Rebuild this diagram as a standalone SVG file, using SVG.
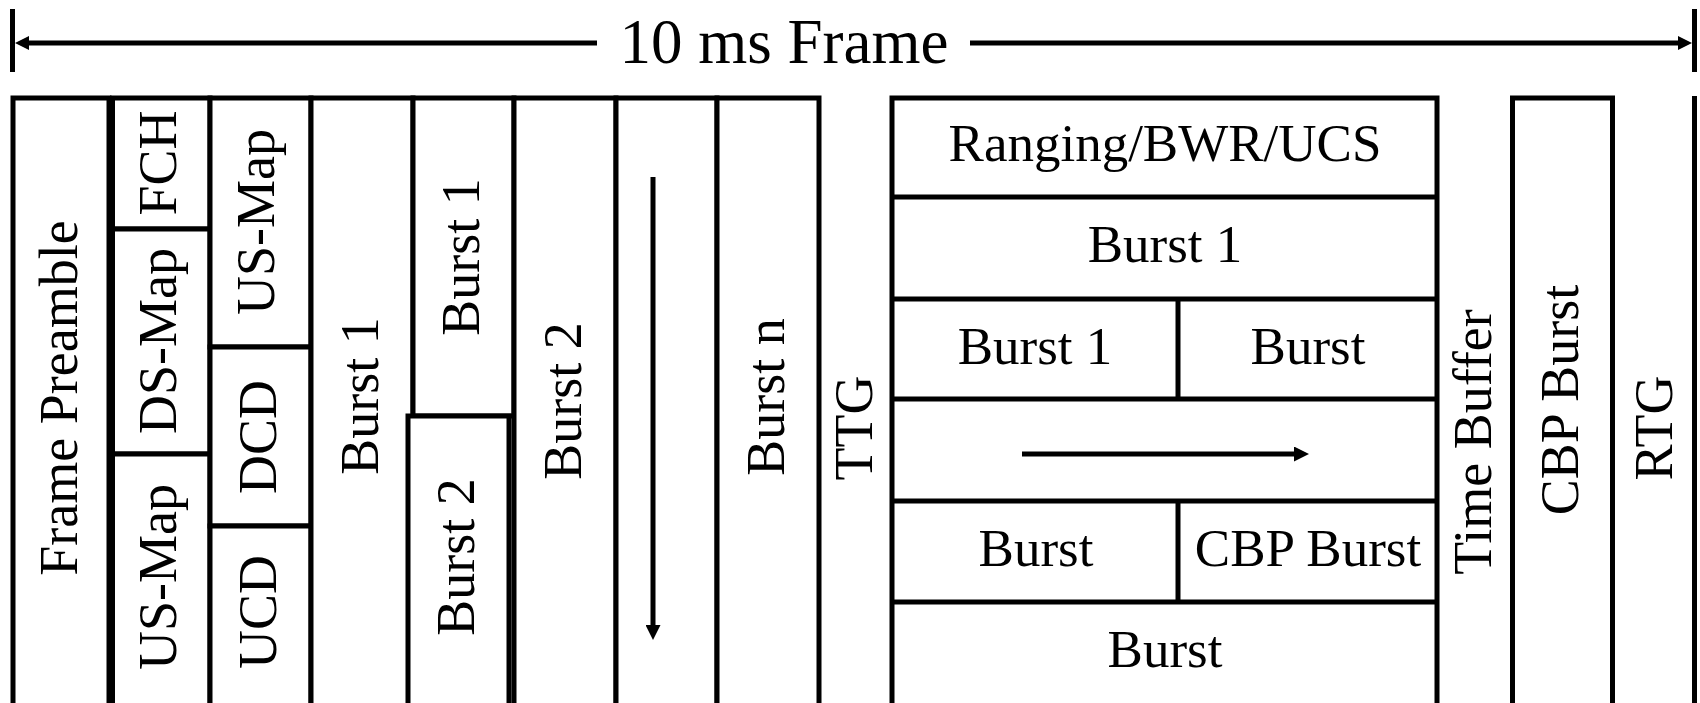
<svg xmlns="http://www.w3.org/2000/svg" width="1700" height="703" viewBox="0 0 1700 703">
<style>
  .b { fill: #fff; stroke: #000; stroke-width: 5; }
  .t { font-family: "Liberation Serif", "Times New Roman", serif; font-size: 54px; fill: #000; text-anchor: middle; }
  .h { font-family: "Liberation Serif", "Times New Roman", serif; font-size: 53px; fill: #000; text-anchor: middle; }
  .title { font-family: "Liberation Serif", "Times New Roman", serif; font-size: 63px; fill: #000; text-anchor: middle; }
  .ln { stroke: #000; stroke-width: 5; fill: none; }
</style>
<defs>
  <marker id="ah" markerUnits="userSpaceOnUse" markerWidth="15" markerHeight="15" viewBox="0 0 15 15" refX="0" refY="7.5" orient="auto">
    <path d="M0,0 L15,7.5 L0,15 z" fill="#000"/>
  </marker>
  <marker id="ah2" markerUnits="userSpaceOnUse" markerWidth="14" markerHeight="14" viewBox="0 0 14 14" refX="0" refY="7" orient="auto">
    <path d="M0,0 L14,7 L0,14 z" fill="#000"/>
  </marker>
</defs>
<rect width="1700" height="703" fill="#fff"/>

<g id="frame-span">
  <line class="ln" x1="12.5" y1="9" x2="12.5" y2="72"/>
  <line class="ln" x1="1694.5" y1="9" x2="1694.5" y2="72"/>
  <text class="title" x="784" y="63">10 ms Frame</text>
</g>

<g id="preamble"><rect class="b" x="13" y="98" width="96" height="640"/>
  <text class="t" transform="translate(77,398) rotate(-90)">Frame Preamble</text></g>
<g id="fch"><rect class="b" x="112.5" y="98" width="97.5" height="131"/>
  <text class="t" transform="translate(176,163) rotate(-90)">FCH</text></g>
<g id="dsmap"><rect class="b" x="112.5" y="229" width="97.5" height="225"/>
  <text class="t" transform="translate(176,341) rotate(-90)">DS-Map</text></g>
<g id="usmap2"><rect class="b" x="112.5" y="454" width="97.5" height="300"/>
  <text class="t" transform="translate(176,577) rotate(-90)">US-Map</text></g>
<g id="usmap3"><rect class="b" x="210" y="98" width="101" height="249"/>
  <text class="t" transform="translate(274,222) rotate(-90)">US-Map</text></g>
<g id="dcd"><rect class="b" x="210" y="347" width="101" height="179"/>
  <text class="t" transform="translate(276,437) rotate(-90)">DCD</text></g>
<g id="ucd"><rect class="b" x="210" y="526" width="101" height="300"/>
  <text class="t" transform="translate(276,612) rotate(-90)">UCD</text></g>
<g id="burst1-c4"><rect class="b" x="311" y="98" width="102" height="640"/>
  <text class="t" transform="translate(378,396) rotate(-90)">Burst 1</text></g>
<g id="burst1-c5"><rect class="b" x="413" y="98" width="101" height="318"/>
  <text class="t" transform="translate(479,257) rotate(-90)">Burst 1</text></g>
<g id="burst2-c5"><rect class="b" x="408" y="416" width="101" height="320"/>
  <text class="t" transform="translate(474,557) rotate(-90)">Burst 2</text></g>
<g id="burst2-c6"><rect class="b" x="514" y="98" width="102" height="640"/>
  <text class="t" transform="translate(581,401) rotate(-90)">Burst 2</text></g>
<g id="arrow-col"><rect class="b" x="616" y="98" width="101" height="640"/></g>
<g id="burstn"><rect class="b" x="717" y="98" width="102" height="640"/>
  <text class="t" transform="translate(784,397) rotate(-90)">Burst n</text></g>
<g id="ttg"><text class="t" transform="translate(872,428) rotate(-90)">TTG</text></g>

<g id="uplink">
  <rect class="b" x="892" y="98" width="545" height="640"/>
  <line class="ln" x1="892" y1="197" x2="1437" y2="197"/>
  <line class="ln" x1="892" y1="299" x2="1437" y2="299"/>
  <line class="ln" x1="892" y1="399" x2="1437" y2="399"/>
  <line class="ln" x1="892" y1="501" x2="1437" y2="501"/>
  <line class="ln" x1="892" y1="602" x2="1437" y2="602"/>
  <line class="ln" x1="1178" y1="299" x2="1178" y2="399"/>
  <line class="ln" x1="1178" y1="501" x2="1178" y2="602"/>
</g>
<g id="ranging"><text class="h" x="1165" y="161">Ranging/BWR/UCS</text></g>
<g id="ul-burst1"><text class="h" x="1165" y="262">Burst 1</text></g>
<g id="ul-burst1b"><text class="h" x="1035" y="364">Burst 1</text></g>
<g id="ul-burst-r3"><text class="h" x="1308" y="364">Burst</text></g>
<g id="ul-burst-r5"><text class="h" x="1036" y="566">Burst</text></g>
<g id="ul-cbp-r5"><text class="h" x="1308" y="566">CBP Burst</text></g>
<g id="ul-burst-r6"><text class="h" x="1165" y="667">Burst</text></g>

<g id="timebuffer"><text class="t" transform="translate(1491,442) rotate(-90)">Time Buffer</text></g>
<g id="cbp"><rect class="b" x="1512.5" y="98" width="100" height="640"/>
  <text class="t" transform="translate(1578,400) rotate(-90)">CBP Burst</text></g>
<g id="rtg"><text class="t" transform="translate(1672,428) rotate(-90)">RTG</text>
  <line class="ln" x1="1694.5" y1="96" x2="1694.5" y2="710"/></g>

<g id="connectors">
  <line class="ln" x1="597" y1="43" x2="29" y2="43" marker-end="url(#ah2)"/>
  <line class="ln" x1="970" y1="43" x2="1678" y2="43" marker-end="url(#ah2)"/>
  <line class="ln" x1="653" y1="177" x2="653" y2="625" marker-end="url(#ah)"/>
  <line class="ln" x1="1022" y1="454" x2="1294" y2="454" marker-end="url(#ah)"/>
</g>
</svg>
